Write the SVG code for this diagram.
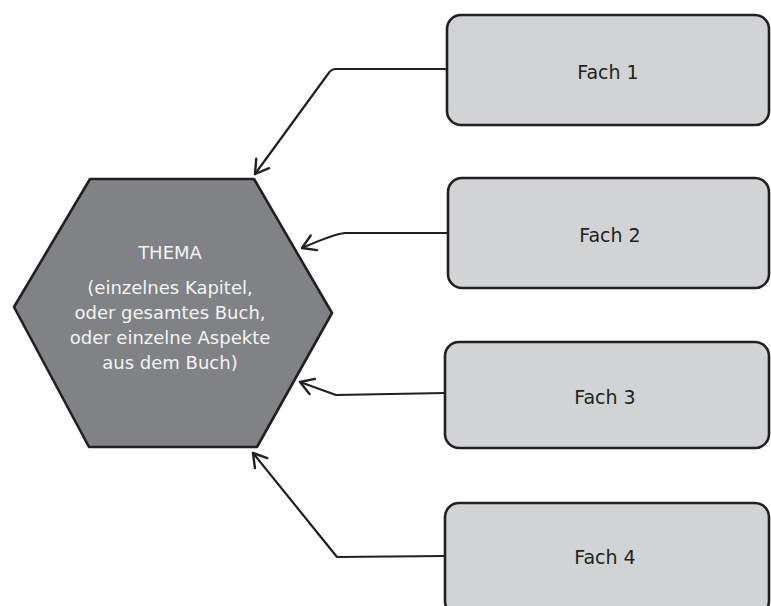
<svg xmlns="http://www.w3.org/2000/svg" width="771" height="606" viewBox="0 0 771 606">
<style>
.box{fill:#d1d3d4;stroke:#231f20;stroke-width:2.6;}
.hex{fill:#808285;stroke:#231f20;stroke-width:2.6;stroke-linejoin:round;}
.lbl{font-family:"DejaVu Sans","Noto Sans",sans-serif;font-size:19px;fill:#231f20;text-anchor:middle;}
.ht{font-family:"DejaVu Sans","Noto Sans",sans-serif;font-size:18px;fill:#f4f4f4;text-anchor:middle;}
.con{fill:none;stroke:#231f20;stroke-width:2.2;stroke-linejoin:round;stroke-linecap:round;}
</style>
<defs>
<marker id="arr" markerUnits="userSpaceOnUse" markerWidth="30" markerHeight="30" refX="15" refY="15" orient="auto" viewBox="0 0 30 30">
<path d="M 2 7 L 15 15 L 2 23" fill="none" stroke="#231f20" stroke-width="2.4" stroke-linecap="round" stroke-linejoin="round"/>
</marker>
</defs>
<rect width="771" height="606" fill="#ffffff"/>
<g id="thema">
<polygon class="hex" points="90,179 254,179 332,313 257,447 89,447 14,307"/>
<text class="ht" x="170" y="259">THEMA</text>
<text class="ht" x="170" y="294">(einzelnes Kapitel,</text>
<text class="ht" x="170" y="319">oder gesamtes Buch,</text>
<text class="ht" x="170" y="344">oder einzelne Aspekte</text>
<text class="ht" x="170" y="369">aus dem Buch)</text>
</g>
<g id="fach1">
<rect class="box" x="447" y="15" width="322" height="110" rx="14"/>
<text class="lbl" x="608" y="79">Fach 1</text>
</g>
<g id="fach2">
<rect class="box" x="448" y="178" width="321" height="110" rx="14"/>
<text class="lbl" x="610" y="242">Fach 2</text>
</g>
<g id="fach3">
<rect class="box" x="445" y="342" width="324" height="106" rx="14"/>
<text class="lbl" x="605" y="404">Fach 3</text>
</g>
<g id="fach4">
<rect class="box" x="445" y="503" width="324" height="112" rx="14"/>
<text class="lbl" x="605" y="564">Fach 4</text>
</g>
<g id="connectors">
<path class="con" d="M 447 69 L 336 69 Q 331 69 328 74 L 255 174" marker-end="url(#arr)"/>
<path class="con" d="M 448 233 L 345 233 Q 334 234 302 248" marker-end="url(#arr)"/>
<path class="con" d="M 445 393 L 336 395 L 300 382" marker-end="url(#arr)"/>
<path class="con" d="M 445 556 L 337 557 L 253 453" marker-end="url(#arr)"/>
</g>
</svg>
